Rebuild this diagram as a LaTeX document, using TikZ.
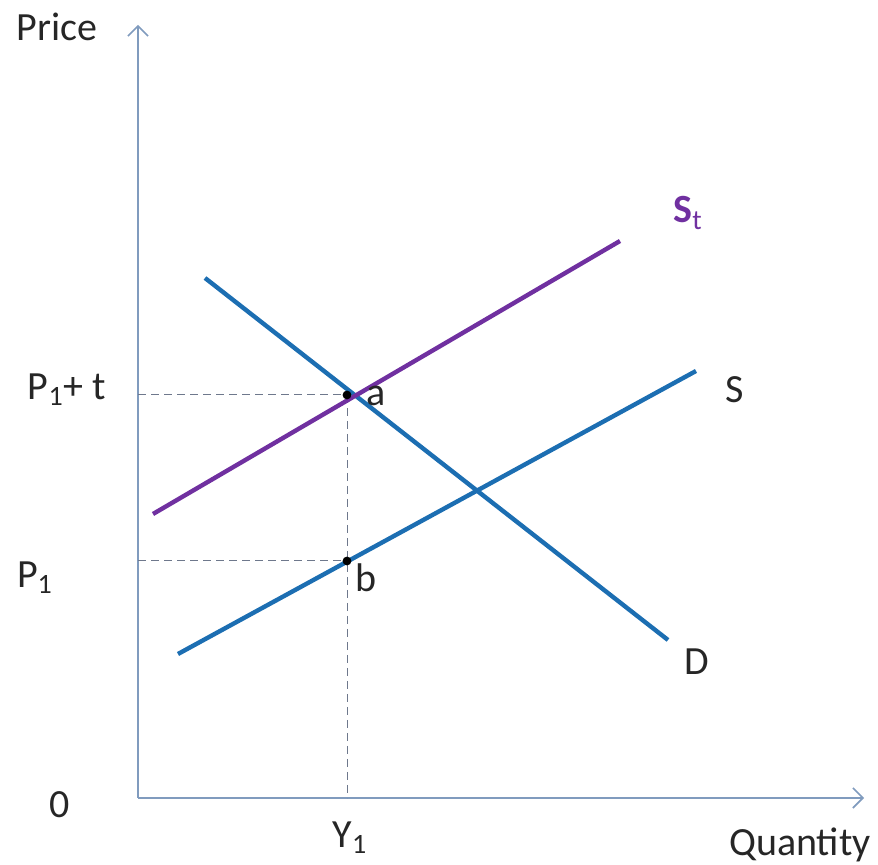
\documentclass[tikz,border=0pt]{standalone}
\usepackage{fontspec}
\setmainfont{Carlito}
\usepackage{xcolor}
\usepackage{tikz}
\usetikzlibrary{arrows.meta, positioning, calc}

\definecolor{curveblue}{RGB}{28,110,178}
\definecolor{taxpurple}{RGB}{112,48,160}
\definecolor{axisgray}{RGB}{128,155,190}
\definecolor{dashgray}{RGB}{110,120,140}

\begin{document}
\begin{tikzpicture}[x=0.5pt, y=0.5pt, every node/.style={font=\fontsize{20}{24}\selectfont, text=black!85, inner sep=0pt},
        axis/.style={draw=axisgray, line width=0.8pt, -{Straight Barb[length=5pt, width=10pt]}},
        curve/.style={draw=curveblue, line width=2.2pt},
        guide/.style={draw=dashgray, line width=0.5pt, dash pattern=on 4pt off 2.5pt}]
        \useasboundingbox (0,0) rectangle (878,865);

        % axes
        \coordinate (o) at (138,67);
        \coordinate (ytop) at (138,840);
        \coordinate (xend) at (864,67);
        \draw[axis] (o) -- (ytop);
        \draw[axis] (o) -- (xend);

        % equilibrium points
        \coordinate (a) at (347,470);
        \coordinate (b) at (347,304);
        \coordinate (ya) at (138,470);
        \coordinate (yb) at (138,304);
        \coordinate (xq) at (347,67);

        \draw[guide] (ya) -- (a); \draw[guide] (yb) -- (b); \draw[guide] (a) -- (xq);

        % curves
        \coordinate (d1) at (205,587); \coordinate (d2) at (668,225);
        \coordinate (s1) at (178,211); \coordinate (s2) at (696,494);
        \coordinate (t1) at (153,351); \coordinate (t2) at (620,624);
        \draw[curve] (d1) -- (d2);
        \draw[curve] (s1) -- (s2);
        \draw[curve, draw=taxpurple] (t1) -- (t2);

        \fill (a) circle (2.2pt); \fill (b) circle (2.2pt);

        % labels
        \node (price) at (57,838) {Price};
        \node (qty) at (800,20) {Quantity};
        \node (zero) at (60,60) {0};
        \node (pt) at (67,475) {P\textsubscript{1}+ t};
        \node (p1) at (35,287) {P\textsubscript{1}};
        \node (y1) at (350,27) {Y\textsubscript{1}};
        \node (la) at (376,469) {a};
        \node (lb) at (366,287) {b};
        \node (ls) at (735,475) {S};
        \node (ld) at (697,203) {D};
        \node[text=taxpurple] (lst) at (688,652) {\textbf{S}\textsubscript{t}};
    \end{tikzpicture}
\end{document}
